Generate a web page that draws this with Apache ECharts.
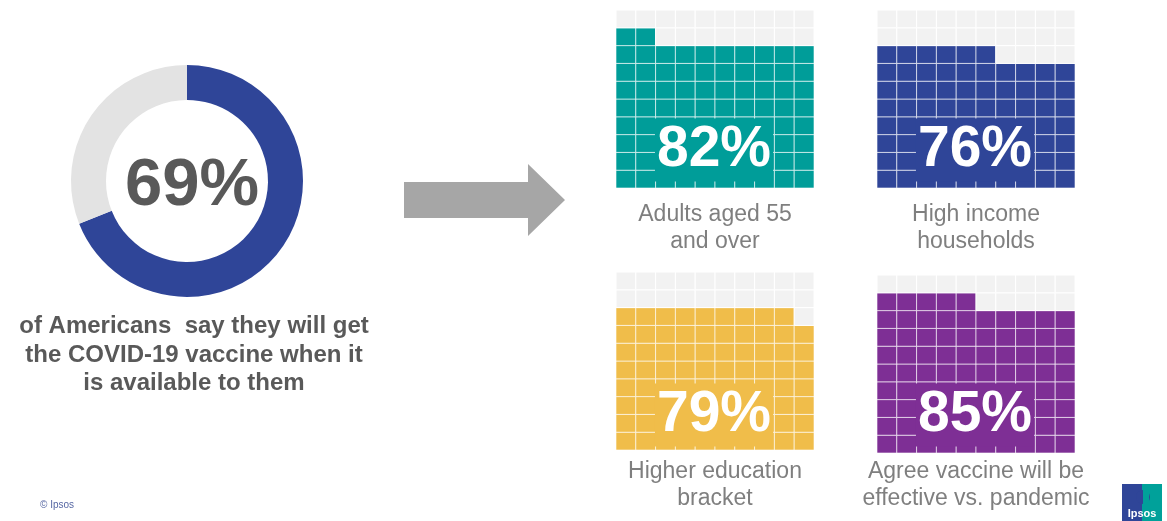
<!DOCTYPE html>
<html>
<head>
<meta charset="utf-8">
<script src="https://cdn.jsdelivr.net/npm/echarts@6/dist/echarts.min.js"></script>
<style>
html,body{margin:0;padding:0;background:#fff;}
#chart{width:1167px;height:521px;}
</style>
</head>
<body>
<div id="chart"></div>
<script>
// ---- data ----
const donutValue = 69;
const donutText = ['of Americans  say they will get', 'the COVID-19 vaccine when it', 'is available to them'];
const categories = ['Adults aged 55\nand over', 'High income\nhouseholds', 'Higher education\nbracket', 'Agree vaccine will be\neffective vs. pandemic'];
const waffleValues = [82, 76, 79, 85];
const waffleColors = ['#009d99', '#2f4598', '#f0bd4a', '#7e2f95'];
const gridIdx = [0, 1, 2, 3, 4, 5, 6, 7, 8, 9];

// ---- layout ----
const FONT = '"Liberation Sans", Arial, sans-serif';
const boxes = [
  {left: 616, top: 10, labelY: 150, textY: 228.5},
  {left: 877, top: 10, labelY: 150, textY: 228.5},
  {left: 616, top: 272, labelY: 415, textY: 485},
  {left: 877, top: 275, labelY: 415, textY: 485}
];
const W = 198, H = 178;

const grids = [], xAxes = [], yAxes = [], series = [], graphics = [];

series.push({
  type: 'pie', center: [187, 181], radius: [81, 116], startAngle: 90, clockwise: true,
  silent: true, label: {show: false}, labelLine: {show: false},
  data: [
    {value: donutValue, itemStyle: {color: '#2f4598'}},
    {value: 100 - donutValue, itemStyle: {color: '#e3e3e3'}}
  ]
});

waffleValues.forEach(function (v, i) {
  const b = boxes[i];
  grids.push({left: b.left, top: b.top, width: W, height: H});
  xAxes.push({type: 'category', gridIndex: i, data: gridIdx, show: false, boundaryGap: true});
  yAxes.push({type: 'category', gridIndex: i, data: gridIdx, show: false, boundaryGap: true});
  const cells = [];
  for (let r = 0; r < 10; r++) for (let c = 0; c < 10; c++) {
    cells.push([c, r, (r * 10 + c) < v ? 1 : 0]);
  }
  const color = waffleColors[i];
  series.push({
    type: 'custom', xAxisIndex: i, yAxisIndex: i, silent: true,
    data: cells,
    renderItem: function (params, api) {
      const p = api.coord([api.value(0), api.value(1)]);
      const s = api.size([1, 1]);
      const on = api.value(2) === 1;
      return {
        type: 'rect',
        shape: {x: p[0] - s[0] / 2, y: p[1] - s[1] / 2, width: s[0], height: s[1]},
        style: {fill: on ? color : '#f2f2f2', stroke: on ? 'rgba(255,255,255,0.6)' : '#ffffff', lineWidth: 1}
      };
    }
  });
  graphics.push({
    type: 'text', z: 100, x: b.left + W / 2 - 1, y: b.labelY,
    style: {
      text: v + '%', fill: '#ffffff', font: 'bold 57px ' + FONT,
      align: 'center', verticalAlign: 'middle',
      backgroundColor: color, padding: [4, 2, 2, 2]
    }
  });
  graphics.push({
    type: 'text', z: 100, x: b.left + W / 2, y: b.textY,
    style: {
      text: categories[i], fill: '#7f7f7f', font: '23px ' + FONT,
      align: 'center', verticalAlign: 'middle', lineHeight: 27
    }
  });
});

// donut centre text
graphics.push({
  type: 'text', z: 100, x: 192, y: 187,
  style: {text: donutValue + '%', fill: '#595959', font: 'bold 67px ' + FONT, align: 'center', verticalAlign: 'middle'}
});
// description
graphics.push({
  type: 'text', z: 100, x: 194, y: 355,
  style: {text: donutText.join('\n'), fill: '#595959', font: 'bold 24px ' + FONT, align: 'center', verticalAlign: 'middle', lineHeight: 28.5}
});
// arrow
graphics.push({
  type: 'polygon', z: 100,
  shape: {points: [[404, 182], [528, 182], [528, 164], [565, 200], [528, 236], [528, 218], [404, 218]]},
  style: {fill: '#a6a6a6'}
});
// copyright
graphics.push({
  type: 'text', z: 100, x: 40, y: 505,
  style: {text: '© Ipsos', fill: '#5566a3', font: '10px ' + FONT, align: 'left', verticalAlign: 'middle'}
});
// logo
graphics.push({type: 'rect', z: 100, shape: {x: 1122, y: 484, width: 20, height: 37}, style: {fill: '#2f4598'}});
graphics.push({type: 'rect', z: 100, shape: {x: 1142, y: 484, width: 20, height: 37}, style: {fill: '#00a19a'}});
graphics.push({type: 'circle', z: 101, shape: {cx: 1143, cy: 497, r: 7}, style: {fill: '#2f4598'}});
graphics.push({type: 'rect', z: 101, shape: {x: 1143, y: 490, width: 6, height: 14}, style: {fill: '#00a19a'}});
graphics.push({
  type: 'text', z: 102, x: 1142, y: 514,
  style: {text: 'Ipsos', fill: '#ffffff', font: 'bold 11px ' + FONT, align: 'center', verticalAlign: 'middle'}
});

const chart = echarts.init(document.getElementById('chart'), null, {renderer: 'canvas'});
chart.setOption({
  animation: false,
  backgroundColor: '#ffffff',
  grid: grids,
  xAxis: xAxes,
  yAxis: yAxes,
  series: series,
  graphic: {elements: graphics}
});
</script>
</body>
</html>
